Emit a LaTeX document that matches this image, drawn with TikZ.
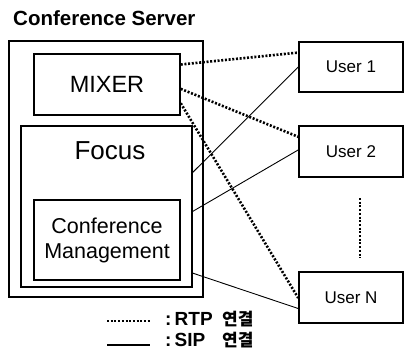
\documentclass[tikz,border=0pt]{standalone}
\usepackage{fontspec}
\setmainfont{Liberation Sans}
\newfontfamily\krfont{Noto Sans CJK KR}
\usetikzlibrary{calc}
\begin{document}
\begin{tikzpicture}[x=1pt,y=-1pt,
  box/.style={draw,line width=1.5pt,rectangle,inner sep=0pt},
  rtp/.style={line width=2.6pt,dash pattern=on 2pt off 1.7pt},
  sip/.style={line width=0.9pt},
  lbl/.style={inner sep=0pt,align=center}]
\useasboundingbox (0,0) rectangle (404,351);
% title
\node[anchor=base west,inner sep=0pt,font=\bfseries\fontsize{20.5}{23}\selectfont] (title) at (13,25) {Conference Server};
% server boxes
\node[box,line width=1.8pt,minimum width=194pt,minimum height=256pt] (server) at (106,169) {};
\node[box,minimum width=146pt,minimum height=61pt,font=\fontsize{23.5}{28}\selectfont] (mixer) at (107,84.5) {MIXER};
\node[box,minimum width=171pt,minimum height=161pt] (focus) at (106.5,206.5) {};
\node[lbl,font=\fontsize{26}{30}\selectfont] (focuslbl) at (110,151) {Focus};
\node[box,minimum width=146pt,minimum height=80pt,font=\fontsize{21.5}{25}\selectfont,align=center] (cm) at (107,240) {Conference\\Management};
% users
\node[box,minimum width=104pt,minimum height=50pt,font=\fontsize{17}{20}\selectfont] (u1) at (351,67) {User 1};
\node[box,minimum width=104pt,minimum height=51pt,font=\fontsize{17}{20}\selectfont] (u2) at (351,151.5) {User 2};
\node[box,minimum width=104pt,minimum height=51pt,font=\fontsize{17}{20}\selectfont] (un) at (351,297.5) {User N};
% vertical ellipsis
\coordinate (dtop) at (360,198);
\coordinate (dbot) at (360,258);
\draw[rtp] (dtop) -- (dbot);
% RTP connections
\draw[rtp] ($(mixer.north east)!0.18!(mixer.south east)$) -- ($(u1.north west)!0.22!(u1.south west)$);
\draw[rtp] ($(mixer.north east)!0.57!(mixer.south east)$) -- ($(u2.north west)!0.22!(u2.south west)$);
\draw[rtp] ($(mixer.north east)!0.80!(mixer.south east)$) -- ($(un.north west)!0.51!(un.south west)$);
% SIP connections
\draw[sip] ($(focus.north east)!0.29!(focus.south east)$) -- ($(u1.north west)!0.5!(u1.south west)$);
\draw[sip] ($(focus.north east)!0.53!(focus.south east)$) -- ($(u2.north west)!0.47!(u2.south west)$);
\draw[sip] ($(focus.north east)!0.91!(focus.south east)$) -- ($(un.north west)!0.71!(un.south west)$);
% legend
\coordinate (l1a) at (107,321);
\coordinate (l1b) at (150,321);
\coordinate (l2a) at (107,345);
\coordinate (l2b) at (150,345);
\draw[rtp,line width=2.2pt] (l1a) -- (l1b);
\draw[line width=1.8pt] (l2a) -- (l2b);
\node[anchor=base west,inner sep=0pt,font=\bfseries\fontsize{19}{21}\selectfont] (rtplbl) at (165,325) {:\,RTP};
\node[anchor=base west,inner sep=0pt,font=\bfseries\fontsize{19}{21}\selectfont] (siplbl) at (165,346) {:\,SIP};
\node[anchor=base west,inner sep=0pt,font=\krfont\bfseries\fontsize{17}{20}\selectfont] (rtpkr) at (222,325) {연결};
\node[anchor=base west,inner sep=0pt,font=\krfont\bfseries\fontsize{17}{20}\selectfont] (sipkr) at (222,346) {연결};
\end{tikzpicture}
\end{document}
